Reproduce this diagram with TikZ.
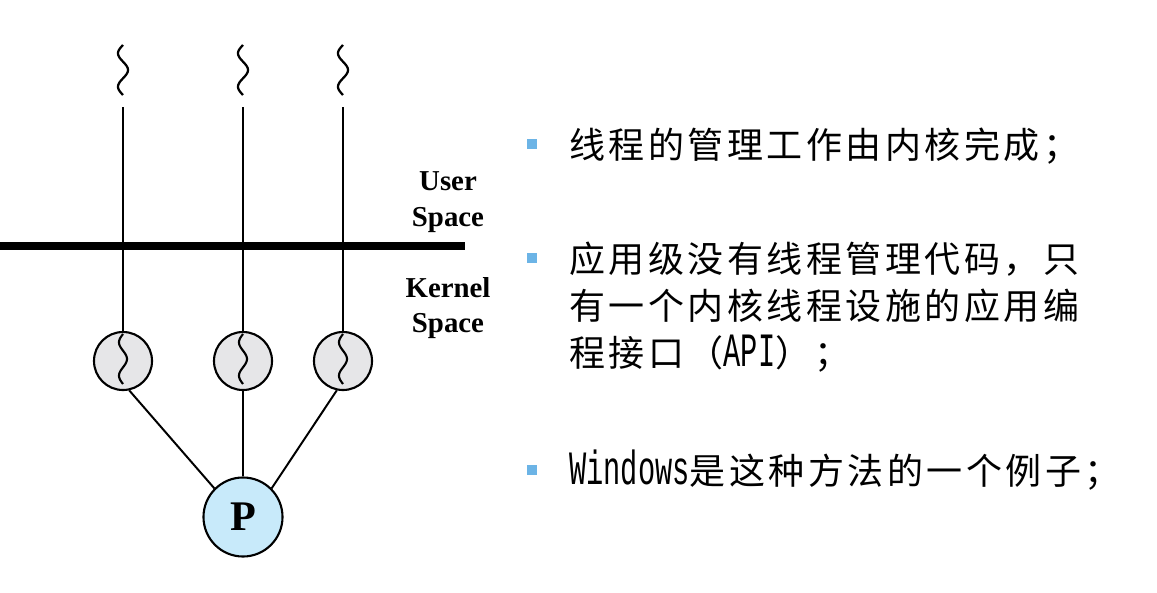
\documentclass[tikz,border=0pt]{standalone}
\usepackage{fontspec}
\setmainfont{Liberation Serif}
\newfontfamily\cjkfont[LetterSpace=9.7]{Noto Sans CJK SC}
\newfontfamily\monofont[FakeStretch=0.6]{Liberation Mono}
\definecolor{threadgray}{HTML}{E6E6E8}
\definecolor{procblue}{HTML}{C8EAFA}
\definecolor{bulletblue}{HTML}{6CB4E6}
\newcommand{\latin}[1]{{\monofont\fontsize{34}{33.4}\selectfont #1}}
\begin{document}
\begin{tikzpicture}[x=0.025cm, y=-0.025cm,
    thread/.style={circle, draw, line width=1.5pt, fill=threadgray, minimum size=1.45cm, inner sep=0pt},
    procnode/.style={circle, draw, line width=1.5pt, fill=procblue, minimum size=1.975cm, inner sep=0pt, font=\fontsize{30}{31}\selectfont\bfseries},
    spacelabel/.style={align=center, inner sep=0pt, font=\fontsize{20.5}{25.5}\selectfont\bfseries},
    bullet/.style={rectangle, fill=bulletblue, minimum size=0.25cm, inner sep=0pt},
    itemtext/.style={anchor=base west, align=left, inner sep=0pt, font=\fontsize{25.6}{33.4}\selectfont\cjkfont}]
    \useasboundingbox (0,0) rectangle (1157,592);

    % User / kernel boundary
    \draw[line width=6pt] (0,246) -- (465,246);
    \node[spacelabel] (user) at (448,202) {User\\Space};
    \node[spacelabel] (kernel) at (448,308) {Kernel\\Space};

    % Process
    \node[procnode] (p) at (243,517) {P};

    % User threads and kernel threads
    \foreach \x/\n in {123/1, 243/2, 343/3} {
        \draw[line width=1.6pt] plot[variable=\t, domain=0:1, samples=40, smooth] ({\x-5*sin(540*\t)}, {45+50*\t});
        \coordinate (u\n) at (\x,107);
        \node[thread] (th\n) at (\x,361) {};
        \draw[line width=1.5pt] plot[variable=\t, domain=0:1, samples=40, smooth] ({\x-4*sin(540*\t)}, {334+50*\t});
        \draw[line width=1.4pt] (u\n) -- (th\n);
    }

    % Links to the process
    \draw[line width=1.4pt] (th1.-78) -- (p.135);
    \draw[line width=1.4pt] (th2) -- (p);
    \draw[line width=1.4pt] (th3.-102) -- (p.45);

    % Bullet points
    \node[bullet] (b1) at (532,144) {};
    \node[bullet] (b2) at (532,258) {};
    \node[bullet] (b3) at (532,470) {};
    \node[itemtext] (t1) at (569,158) {线程的管理工作由内核完成；};
    \node[itemtext] (t2) at (569,366) {应用级没有线程管理代码，只\\有一个内核线程设施的应用编\\程接口（\latin{API}）；};
    \node[itemtext] (t3) at (569,484) {\latin{Windows}是这种方法的一个例子；};
\end{tikzpicture}
\end{document}
